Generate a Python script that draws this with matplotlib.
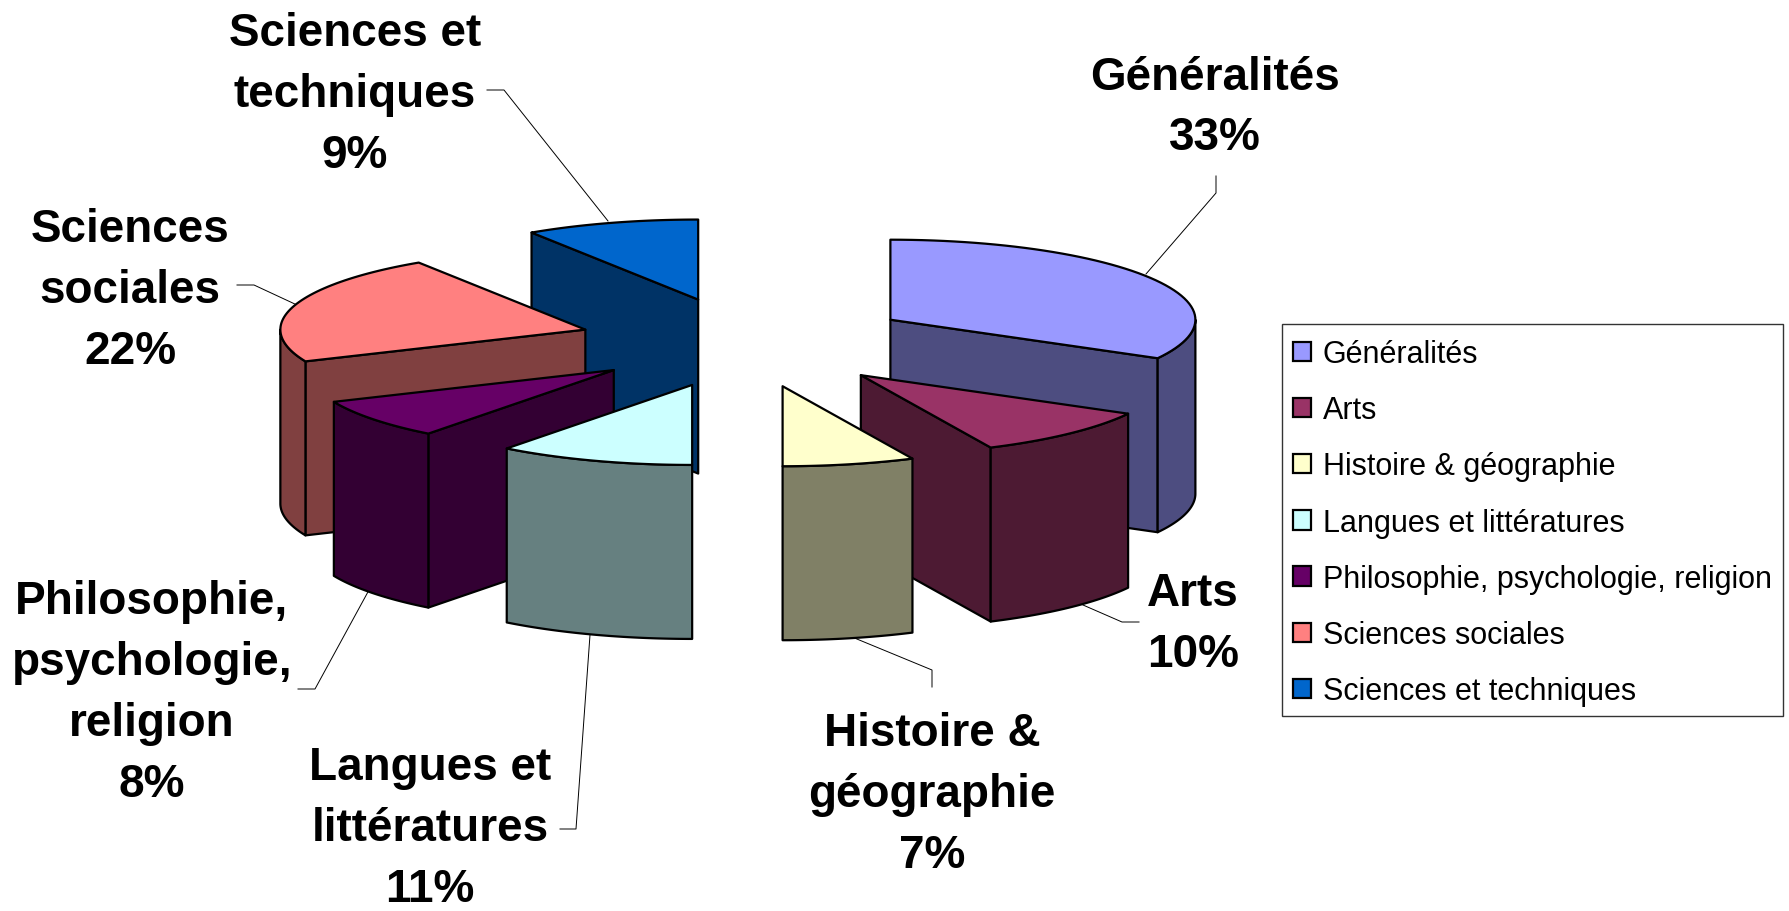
import numpy as np
import matplotlib
matplotlib.use('Agg')
import matplotlib.pyplot as plt
from matplotlib.patches import Patch, Polygon, Rectangle

plt.rcParams['font.family'] = ['Liberation Sans', 'DejaVu Sans']

categories = ['Généralités', 'Arts', 'Histoire & géographie', 'Langues et littératures',
              'Philosophie, psychologie, religion', 'Sciences sociales', 'Sciences et techniques']
values = [33.0, 10.0, 7.0, 10.4, 8.1, 22.3, 9.2]
shown_pct = [33, 10, 7, 11, 8, 22, 9]
wrapped = ['Généralités', 'Arts', 'Histoire &\ngéographie', 'Langues et\nlittératures',
           'Philosophie,\npsychologie,\nreligion', 'Sciences\nsociales', 'Sciences et\ntechniques']
colors = ['#9999FF', '#993366', '#FFFFCC', '#CCFFFF', '#660066', '#FF8080', '#0066CC']

# pie geometry, in pixels
cx, cy = 746, 343.5
rx, ry = 305, 80
depth = 174
explode_x, explode_y = 0.55, 0.56
# painter's order, back to front
draw_order = [6, 0, 5, 1, 4, 2, 3]

# label centres and leader lines
label_pos = [(1215, 105), (1193, 622), (932, 792), (430, 826), (152, 691), (130, 288), (355, 92)]
leaders = [[(1216, 177), (1216, 194), (1146, 275)],
           [(1083, 606), (1122, 623), (1139, 623)],
           [(852, 638), (932, 671), (932, 688)],
           [(590, 636), (576, 830), (560, 830)],
           [(369, 591), (315, 690), (298, 690)],
           [(237, 286), (254, 286), (297, 306)],
           [(487, 91), (504, 91), (608, 222)]]

fig = plt.figure(figsize=(17.89, 9.12), dpi=100)
ax = fig.add_axes([0, 0, 1, 1])
ax.set_xlim(0, 1789)
ax.set_ylim(912, 0)
ax.axis('off')


def rim(ox, oy, a1, a2):
    t = np.radians(np.linspace(a1, a2, 60))
    return np.column_stack([ox + rx * np.sin(t), oy - ry * np.cos(t)])


def face(points, color, z):
    ax.add_patch(Polygon(points, closed=True, facecolor=color, edgecolor='black',
                         linewidth=1.6, joinstyle='round', zorder=z))


for path in leaders:
    xs, ys = zip(*path)
    ax.plot(xs, ys, color='black', lw=0.7, zorder=1)

edges = np.concatenate([[0], np.cumsum(values)]) * 360 / np.sum(values)
z = 2
for i in draw_order:
    a1, a2 = edges[i], edges[i + 1]
    mid = np.radians((a1 + a2) / 2)
    ox = cx + explode_x * rx * np.sin(mid)
    oy = cy - explode_y * ry * np.cos(mid)
    top = colors[i]
    wall = tuple(c * 0.5 for c in matplotlib.colors.to_rgb(top))
    down = np.array([0, depth])
    apex = np.array([ox, oy])

    # walls that face the viewer
    if 180 < a1 < 360:
        p = rim(ox, oy, a1, a1)[0]
        face([apex, p, p + down, apex + down], wall, z)
    if 0 < a2 < 180:
        p = rim(ox, oy, a2, a2)[0]
        face([apex, p, p + down, apex + down], wall, z)
    lo, hi = max(a1, 90), min(a2, 270)
    if lo < hi:
        arc = rim(ox, oy, lo, hi)
        face(np.vstack([arc, (arc + down)[::-1]]), wall, z)
    face(np.vstack([apex, rim(ox, oy, a1, a2)]), top, z)
    z += 1

for name, pct, (x, y) in zip(wrapped, shown_pct, label_pos):
    ax.text(x, y + 3, f'{name}\n{pct}%', ha='center', va='center', fontsize=33,
            fontweight='bold', linespacing=1.5, zorder=20)

# legend box
ax.add_patch(Rectangle((1282, 325), 501, 392, facecolor='white', edgecolor='#333333',
                       linewidth=1.0, zorder=25))
handles = [Patch(facecolor=c, edgecolor='black', linewidth=1.6) for c in colors]
leg = ax.legend(handles, categories, loc='upper left', bbox_to_anchor=(1293, 340),
                bbox_transform=ax.transData, borderaxespad=0, borderpad=0, fontsize=22,
                handlelength=0.6, handleheight=0.6, handletextpad=0.38,
                labelspacing=0.858, frameon=False)
leg.set_zorder(30)

plt.savefig('out.png', dpi=100)
